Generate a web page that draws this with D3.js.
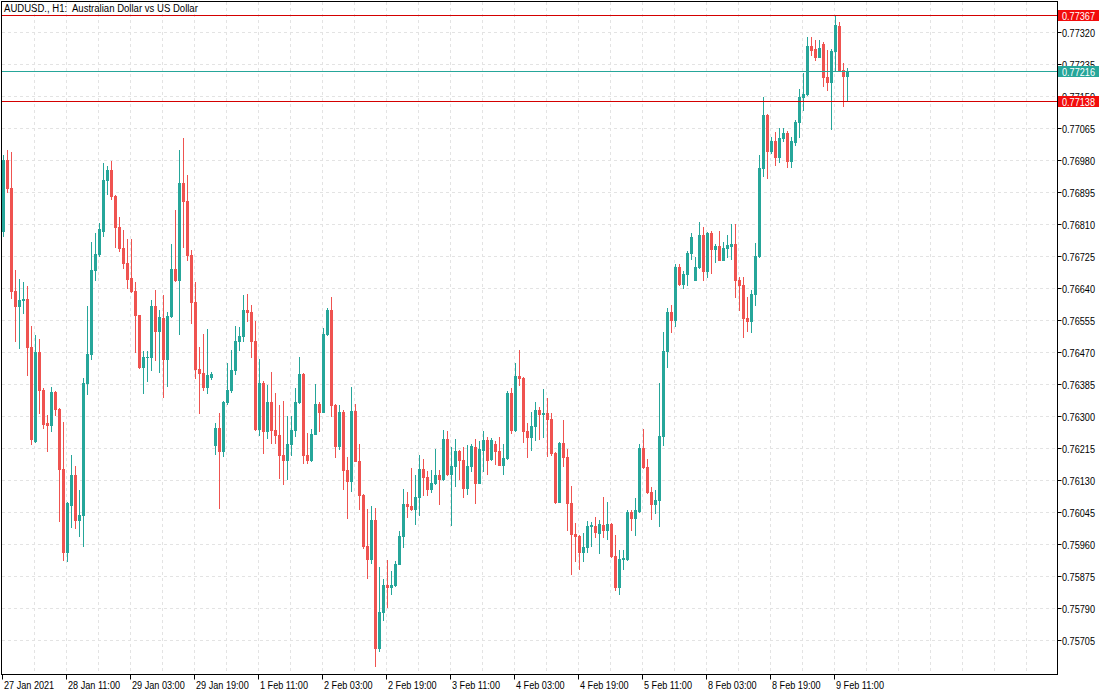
<!DOCTYPE html>
<html><head><meta charset="utf-8">
<script src="https://cdn.jsdelivr.net/npm/d3@7"></script>
<style>
html,body{margin:0;padding:0;background:#fff;}
svg{display:block;}
text{font-family:"Liberation Sans",Arial,sans-serif;font-size:11px;}
</style>
</head><body>
<svg id="c" width="1110" height="694"></svg>
<script>
const title = "AUDUSD., H1:  Australian Dollar vs US Dollar";
// hourly candles [open, high, low, close] in points (1 point = 0.00001), first bar 27 Jan 2021 19:00
const candles = [
[76791,76995,76779,76981],[76981,77008,76897,76906],[76906,77003,76614,76632],[76632,76689,76499,76594],
[76594,76665,76481,76608],[76608,76657,76574,76612],[76612,76645,76410,76484],[76484,76541,76226,76240],
[76236,76515,76233,76472],[76472,76506,76309,76369],[76369,76375,76269,76280],[76282,76304,76207,76278],
[76278,76377,76260,76366],[76366,76368,76304,76319],[76319,76322,76021,76160],[76160,76284,75919,75939],
[75939,76073,75917,76071],[76065,76198,76005,76145],[76145,76169,76003,76024],[76024,76105,75983,76039],
[76039,76402,75956,76388],[76388,76592,76360,76466],[76466,76763,76452,76689],[76689,76788,76663,76732],
[76732,76813,76726,76797],[76792,76972,76778,76928],[76928,76965,76891,76953],[76953,76979,76878,76886],
[76886,76888,76749,76804],[76804,76829,76740,76747],[76747,76795,76694,76708],[76708,76771,76641,76665],
[76668,76771,76630,76633],[76633,76658,76470,76568],[76568,76570,76428,76430],[76430,76474,76362,76457],
[76457,76474,76393,76458],[76458,76610,76424,76594],[76594,76636,76450,76528],[76528,76583,76419,76564],
[76562,76623,76351,76453],[76453,76578,76382,76567],[76567,76758,76565,76691],[76691,76848,76660,76661],
[76661,77008,76518,76921],[76921,77039,76749,76873],[76873,76941,76716,76729],[76729,76742,76549,76603],
[76603,76658,76402,76426],[76426,76485,76310,76416],[76416,76519,76371,76379],[76379,76532,76362,76410],
[76404,76418,76400,76412],[76225,76282,76201,76269],[76269,76310,76057,76207],[76207,76342,76196,76337],
[76337,76441,76333,76371],[76371,76475,76364,76424],[76424,76539,76413,76501],[76501,76537,76477,76514],
[76514,76623,76501,76583],[76583,76625,76552,76578],[76578,76596,76459,76501],[76501,76554,76264,76266],
[76266,76453,76251,76390],[76390,76393,76204,76260],[76260,76384,76242,76339],[76339,76419,76229,76264],
[76264,76363,76229,76251],[76251,76331,76136,76198],[76198,76342,76121,76185],[76185,76302,76134,76227],
[76227,76302,76198,76263],[76263,76375,76247,76339],[76339,76459,76336,76413],[76413,76415,76176,76198],
[76198,76257,76176,76183],[76183,76266,76181,76254],[76254,76386,76252,76333],[76333,76339,76260,76313],
[76313,76534,76311,76519],[76519,76587,76516,76583],[76583,76618,76302,76331],[76331,76333,76192,76222],
[76222,76331,76213,76313],[76313,76317,76108,76158],[76158,76193,76031,76129],[76129,76379,76103,76315],
[76315,76333,76181,76182],[76182,76227,76055,76090],[76090,76093,75951,75955],[75955,76054,75872,75922],
[75922,76063,75912,76025],[76025,76057,75636,75685],[75685,75900,75678,75780],[75780,75868,75760,75853],
[75853,75919,75795,75847],[75847,75890,75829,75853],[75851,75917,75849,75909],[75909,75997,75907,75983],
[75983,76108,75952,76068],[76068,76098,76034,76061],[76061,76163,76052,76055],[76055,76145,76014,76086],
[76086,76198,76039,76161],[76161,76187,76092,76140],[76140,76154,76092,76108],[76108,76158,76099,76123],
[76123,76214,76121,76145],[76145,76158,76068,76134],[76134,76264,76132,76240],[76240,76260,76145,76148],
[76148,76218,76012,76167],[76167,76240,76116,76209],[76209,76211,76134,76185],[76185,76218,76085,76111],
[76111,76225,76094,76169],[76167,76227,76156,76222],[76218,76240,76070,76124],[76124,76236,76122,76214],
[76212,76260,76156,76238],[76238,76244,76148,76185],[76186,76242,76183,76238],[76227,76235,76174,76207],
[76207,76244,76170,76172],[76172,76227,76148,76189],[76189,76368,76187,76363],[76363,76375,76257,76264],
[76264,76441,76262,76408],[76408,76477,76384,76402],[76402,76405,76231,76260],[76260,76282,76193,76244],
[76244,76313,76211,76275],[76275,76339,76238,76317],[76317,76325,76240,76306],[76306,76372,76244,76310],
[76310,76349,76195,76293],[76293,76309,76198,76204],[76204,76206,76071,76074],[76074,76233,76072,76229],
[76229,76291,76169,76191],[76191,76213,75999,76070],[76070,76116,75881,75987],[75987,76017,75915,75983],
[75983,75985,75894,75939],[75939,75990,75915,75953],[75953,76021,75941,76008],[76008,76019,75955,76012],
[76010,76034,75980,75994],[75990,76024,75937,76014],[76012,76087,75980,75999],[75999,76074,75974,76015],
[76015,76016,75926,75928],[75928,75984,75838,75848],[75848,75946,75828,75922],[75921,75946,75894,75924],
[75922,76052,75920,76047],[76047,76052,75999,76030],[76030,76083,75986,76052],[76048,76227,76045,76216],
[76216,76267,76163,76165],[76165,76187,76096,76098],[76098,76112,76028,76068],[76068,76105,76043,76078],
[76078,76390,76009,76247],[76247,76523,76225,76474],[76474,76587,76432,76576],[76576,76596,76523,76555],
[76555,76705,76541,76698],[76698,76705,76649,76652],[76652,76685,76641,76679],[76679,76738,76649,76735],
[76735,76787,76718,76776],[76663,76723,76661,76698],[76698,76817,76694,76782],[76782,76803,76663,76687],
[76687,76790,76669,76787],[76787,76791,76680,76744],[76744,76757,76711,76753],[76753,76791,76714,76716],
[76716,76762,76714,76747],[76747,76782,76724,76756],[76753,76811,76718,76758],[76758,76811,76618,76663],
[76663,76671,76583,76649],[76649,76670,76512,76561],[76561,76618,76528,76552],[76552,76636,76525,76625],
[76625,76760,76596,76725],[76725,76995,76723,76959],[76959,77149,76937,77101],[77101,77103,76933,77005],
[77005,77043,76999,77032],[77030,77056,76968,76990],[76990,77067,76975,77039],[77039,77065,77030,77052],
[77053,77059,76963,76977],[76977,77043,76962,77030],[77028,77087,77021,77083],[77082,77169,77041,77148],
[77148,77211,77114,77156],[77157,77307,77154,77284],[77284,77307,77260,77273],[77276,77300,77247,77255],
[77255,77300,77254,77278],[77290,77294,77178,77201],[77201,77273,77167,77189],[77189,77275,77063,77271],
[77270,77367,77220,77340],[77337,77348,77218,77220],[77221,77238,77123,77204],[77204,77225,77140,77216]
];
const pointSize = 0.00001;

const priceTicks = [0.75705,0.75790,0.75875,0.75960,0.76045,0.76130,0.76215,0.76300,0.76385,0.76470,
  0.76555,0.76640,0.76725,0.76810,0.76895,0.76980,0.77065,0.77150,0.77235,0.77320];

const timeTickBars = [0,16,32,48,64,80,96,112,128,144,160,176,192,208];
const timeTickLabels = ["27 Jan 2021","28 Jan 11:00","29 Jan 03:00","29 Jan 19:00","1 Feb 11:00",
  "2 Feb 03:00","2 Feb 19:00","3 Feb 11:00","4 Feb 03:00","4 Feb 19:00","5 Feb 11:00",
  "8 Feb 03:00","8 Feb 19:00","9 Feb 11:00"];

const levelPrices = [0.77367, 0.77216, 0.77138];
const levelKinds  = ["red", "teal", "red"];

// ---------- drawing ----------
const W = 1110, H = 694;
const L = 1.5, T = 1.5, R = 1057.5, B = 674.5;
const bull = "#26a69a", bear = "#ef5350";
const lineCol = {red: "#d40000", teal: "#26a69a"};
const boxCol  = {red: "#f20c0c", teal: "#26a69a"};
const SX = 0.83; // horizontal squeeze of the axis font

const data = candles.map((d, i) => ({i, o: d[0]*pointSize, h: d[1]*pointSize, l: d[2]*pointSize, c: d[3]*pointSize}));

const x = d3.scaleLinear().domain([0, 263]).range([3, 1055]);
const y = d3.scaleLinear().domain([0.75616, 0.77403]).range([674, 1]);
const py = v => Math.round(y(v));

const svg = d3.select("#c");
svg.append("rect").attr("width", W).attr("height", H).attr("fill", "#fff");

svg.append("defs").append("clipPath").attr("id", "clip")
  .append("rect").attr("x", 2).attr("y", 2).attr("width", 1055).attr("height", 672);

function label(parent, tx, ty, str, fill, sx) {
  return parent.append("text")
    .attr("transform", `translate(${tx},${ty}) scale(${sx},1)`)
    .attr("fill", fill).style("white-space", "pre").text(str);
}

// grid
const grid = svg.append("g").attr("stroke", "#e3e3e3").attr("stroke-dasharray", "3,3").attr("stroke-width", 1);
grid.selectAll(".gv").data(d3.range(8, 264, 8)).join("line").attr("class", "gv")
  .attr("x1", d => x(d) - 0.5).attr("x2", d => x(d) - 0.5).attr("y1", 2).attr("y2", 674);
grid.selectAll(".gh").data(priceTicks).join("line").attr("class", "gh")
  .attr("x1", 2).attr("x2", 1057).attr("y1", d => py(d) + 0.5).attr("y2", d => py(d) + 0.5);

// candles
const cg = svg.append("g").attr("clip-path", "url(#clip)");
cg.selectAll(".wick").data(data).join("rect").attr("class", "wick")
  .attr("x", d => x(d.i)).attr("width", 1)
  .attr("y", d => py(d.h)).attr("height", d => py(d.l) - py(d.h) + 1)
  .attr("fill", d => d.c >= d.o ? bull : bear);
cg.selectAll(".body").data(data).join("rect").attr("class", "body")
  .attr("x", d => x(d.i) - 1).attr("width", 3)
  .attr("y", d => py(Math.max(d.o, d.c)))
  .attr("height", d => Math.max(1, py(Math.min(d.o, d.c)) - py(Math.max(d.o, d.c)) + 1))
  .attr("fill", d => d.c >= d.o ? bull : bear);

// price level lines
const lv = svg.append("g");
levelPrices.forEach((p, k) => {
  lv.append("rect").attr("x", 2).attr("width", 1055).attr("y", py(p)).attr("height", 1)
    .attr("fill", lineCol[levelKinds[k]]);
});

// frame
svg.append("rect").attr("x", L).attr("y", T).attr("width", R - L).attr("height", B - T)
  .attr("fill", "none").attr("stroke", "#000").attr("stroke-width", 1);

// right price axis
const ya = svg.append("g");
ya.selectAll(".yt").data(priceTicks).join("line").attr("class", "yt")
  .attr("x1", R).attr("x2", R + 4).attr("y1", d => py(d) + 0.5).attr("y2", d => py(d) + 0.5)
  .attr("stroke", "#000");
priceTicks.forEach(p => label(ya, 1062, py(p) + 4.5, p.toFixed(5), "#000", SX));

// level tags
const tg = svg.append("g");
levelPrices.forEach((p, k) => {
  tg.append("rect").attr("x", 1058).attr("y", py(p) - 5).attr("width", 41).attr("height", 11)
    .attr("fill", boxCol[levelKinds[k]]);
  label(tg, 1062, py(p) + 4.5, p.toFixed(5), "#fff", SX);
});

// bottom time axis
const xa = svg.append("g");
xa.selectAll(".xt").data(timeTickBars).join("line").attr("class", "xt")
  .attr("x1", d => x(d) - 0.5).attr("x2", d => x(d) - 0.5).attr("y1", B).attr("y2", B + 5)
  .attr("stroke", "#000");
timeTickBars.forEach((b, k) => label(xa, x(b) + 1, 689, timeTickLabels[k], "#000", SX));

// title
label(svg, 4, 12, title, "#000", 0.87);
</script>
</body></html>
